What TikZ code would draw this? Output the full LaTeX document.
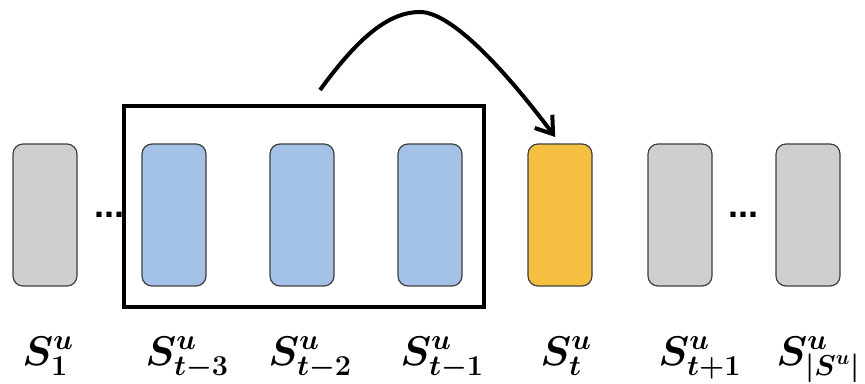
\documentclass[tikz,border=0pt]{standalone}
\usepackage{bm}
\usepackage{fontspec}
\newfontfamily\dotfont{Liberation Sans}
\definecolor{cSeq}{HTML}{CFCFCF}
\definecolor{cWin}{HTML}{A4C2E5}
\definecolor{cTgt}{HTML}{F5BF41}
\definecolor{cEdge}{HTML}{404040}
\usetikzlibrary{arrows.meta,calc}
\tikzset{
  item-box/.style={draw=cEdge,line width=0.6pt,rounded corners=5pt,
    minimum width=32pt,minimum height=71pt,inner sep=0pt},
  item-seq/.style={item-box,fill=cSeq},
  item-win/.style={item-box,fill=cWin},
  item-tgt/.style={item-box,fill=cTgt},
  win-frame/.style={draw=black,line width=2pt},
  arrow-next/.style={-{Straight Barb[length=8pt,width=11pt]},line width=2pt,draw=black},
  item-label/.style={anchor=base west,inner sep=0pt,font=\fontsize{20}{24}\selectfont},
  item-dots/.style={anchor=base,inner sep=0pt,font=\dotfont\bfseries\fontsize{18}{20}\selectfont},
}

\begin{document}
\begin{tikzpicture}[x=0.5pt,y=-0.5pt]
  \useasboundingbox (0,0) rectangle (865,384);
  % sequence items
  \node[item-seq] (b1)  at (45,215)  {};
  \node[item-win] (bm3) at (174,215) {};
  \node[item-win] (bm2) at (302,215) {};
  \node[item-win] (bm1) at (430,215) {};
  \node[item-tgt] (bt)  at (560,215) {};
  \node[item-seq] (bp1) at (680,215) {};
  \node[item-seq] (bN)  at (808,215) {};
  \node[item-dots] (d1) at (109.5,218) {...};
  \node[item-dots] (d2) at (743.5,218) {...};
  % window of previous items
  \draw[win-frame] ($(bm3.north west)+(-17,-37)$) rectangle ($(bm1.south east)+(21,20)$);
  % prediction arrow
  \coordinate (src)  at (320,90);
  \coordinate (peak) at (420,12);
  \draw[arrow-next,shorten >=4pt] (src) .. controls +(40,-55) and +(-30,0) .. (peak)
    .. controls +(35,0) and +(-45,-60) .. (bt.north);
  % labels
  \node[item-label] (l1)  at (22,365)  {$\bm{S^u_1}$};
  \node[item-label] (lm3) at (145,365) {$\bm{S^u_{t-3}}$};
  \node[item-label] (lm2) at (268,365) {$\bm{S^u_{t-2}}$};
  \node[item-label] (lm1) at (400,365) {$\bm{S^u_{t-1}}$};
  \node[item-label] (lt)  at (540,365) {$\bm{S^u_t}$};
  \node[item-label] (lp1) at (658,365) {$\bm{S^u_{t+1}}$};
  \node[item-label] (lN)  at (776,365) {$\bm{S^u_{|S^u|}}$};
\end{tikzpicture}
\end{document}
